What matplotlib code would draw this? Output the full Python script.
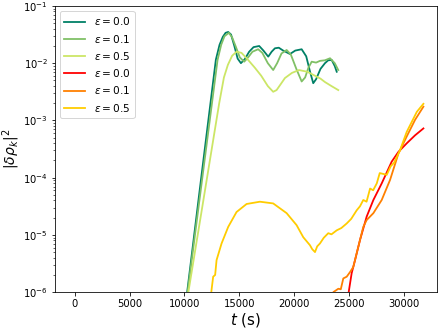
import numpy as np
import matplotlib
matplotlib.use("Agg")
import matplotlib.pyplot as plt

# time (s) and log10 |drho_k|^2
t_g0 = [9900, 10250, 11500, 12865, 13200, 13500, 13750, 13990, 14250, 14550, 14850, 15150, 15500, 15900, 16300, 16815,
        17200, 17640, 17950, 18250, 18600, 19000, 19620, 20100, 20685, 21100, 21450, 21740, 22000, 22400, 22810, 23100,
        23420, 23700, 23880]
y_g0 = [-6.5, -6.0, -4.05, -1.94, -1.68, -1.54, -1.47, -1.455, -1.50, -1.70, -1.92, -2.00, -1.93, -1.80, -1.72, -1.70,
        -1.78, -1.886, -1.80, -1.74, -1.73, -1.78, -1.84, -1.78, -1.757, -1.88, -2.15, -2.35, -2.28, -2.10, -2.00, -1.95,
        -1.944, -2.05, -2.15]

t_g1 = [9950, 10290, 11600, 13020, 13350, 13650, 14050, 14350, 14700, 15050, 15450, 15800, 16200, 16720, 17100, 17600,
        18090, 18450, 18850, 19315, 19700, 20200, 20685, 21000, 21300, 21600, 22000, 22350, 22800, 23270, 23700, 24020]
y_g1 = [-6.5, -6.0, -4.05, -1.944, -1.68, -1.53, -1.47, -1.55, -1.72, -1.90, -1.974, -1.90, -1.80, -1.757, -1.82, -2.00,
        -2.12, -2.00, -1.83, -1.77, -1.85, -2.10, -2.32, -2.25, -2.08, -1.974, -1.99, -1.96, -1.95, -1.914, -2.00, -2.12]

t_g2 = [10000, 10360, 11800, 13170, 13600, 13960, 14350, 14750, 15200, 15700, 16420, 17000, 17600, 18090, 18400, 18800,
        19160, 19800, 20440, 21200, 21900, 22400, 22810, 23400, 24020]
y_g2 = [-6.5, -6.0, -4.31, -2.70, -2.25, -2.03, -1.87, -1.80, -1.82, -1.92, -2.08, -2.22, -2.40, -2.50, -2.47, -2.36,
        -2.26, -2.17, -2.12, -2.15, -2.22, -2.27, -2.33, -2.40, -2.47]

t_r0 = [24800, 24970, 25240, 25550, 26000, 26610, 27220, 27980, 28890, 29500, 30260, 31020, 31780]
y_r0 = [-6.3, -6.0, -5.67, -5.44, -5.09, -4.68, -4.39, -4.10, -3.72, -3.55, -3.40, -3.26, -3.14]

t_r1 = [23400, 23570, 24030, 24250, 24480, 24790, 25090, 25390, 25700, 26300, 26610, 27220, 27980, 28740, 29500, 30260,
        31020, 31780]
y_r1 = [-6.2, -6.0, -5.94, -5.95, -5.76, -5.73, -5.65, -5.56, -5.32, -4.86, -4.74, -4.62, -4.39, -4.04, -3.58, -3.28,
        -2.99, -2.76]

t_r2 = [12300, 12470, 12620, 12800, 12930, 13385, 13990, 14750, 15665, 16880, 18090, 19315, 20225, 20830, 21440, 21650,
        21900, 22100, 22350, 22700, 23110, 23400, 23880, 24300, 24790, 25200, 25700, 26000, 26300, 26600, 26920, 27200,
        27530, 27800, 28440, 28800, 29100, 29650, 30260, 31180, 31780]
y_r2 = [-6.3, -5.965, -5.73, -5.70, -5.44, -5.15, -4.86, -4.60, -4.46, -4.42, -4.45, -4.62, -4.83, -5.04, -5.18, -5.25,
        -5.30, -5.20, -5.15, -5.05, -4.97, -4.99, -4.92, -4.88, -4.80, -4.72, -4.57, -4.50, -4.39, -4.42, -4.19, -4.22,
        -4.10, -3.92, -3.95, -3.80, -3.74, -3.52, -3.20, -2.85, -2.71]

labels = [r'$\epsilon = 0.0$', r'$\epsilon = 0.1$', r'$\epsilon = 0.5$',
          r'$\epsilon = 0.0$', r'$\epsilon = 0.1$', r'$\epsilon = 0.5$']

greens = plt.cm.summer([0.0, 0.5, 0.8])
reds = plt.cm.autumn([0.0, 0.5, 0.8])

fig = plt.figure(figsize=(443 / 72, 329 / 72), dpi=72)
ax = fig.add_subplot(111)
fig.subplots_adjust(left=0.124, right=0.986, top=0.982, bottom=0.112)

series = [(t_g0, y_g0), (t_g1, y_g1), (t_g2, y_g2), (t_r0, y_r0), (t_r1, y_r1), (t_r2, y_r2)]
colors = list(greens) + list(reds)
for (t, y), c, lab in zip(series, colors, labels):
    ax.plot(t, 10.0 ** np.array(y), color=c, label=lab, lw=1.8)

ax.set_yscale('log')
ax.set_ylim(1e-6, 1e-1)
ax.set_xlim(-1800, 33000)
ax.set_xticks([0, 5000, 10000, 15000, 20000, 25000, 30000])
ax.set_xlabel(r'$t$ (s)', fontsize=15, labelpad=2)
ax.set_ylabel(r'$|\delta\rho_k|^2$', fontsize=14, labelpad=1)
ax.legend(loc='upper left', fontsize=10.5)

fig.savefig('out.png', dpi=72)
